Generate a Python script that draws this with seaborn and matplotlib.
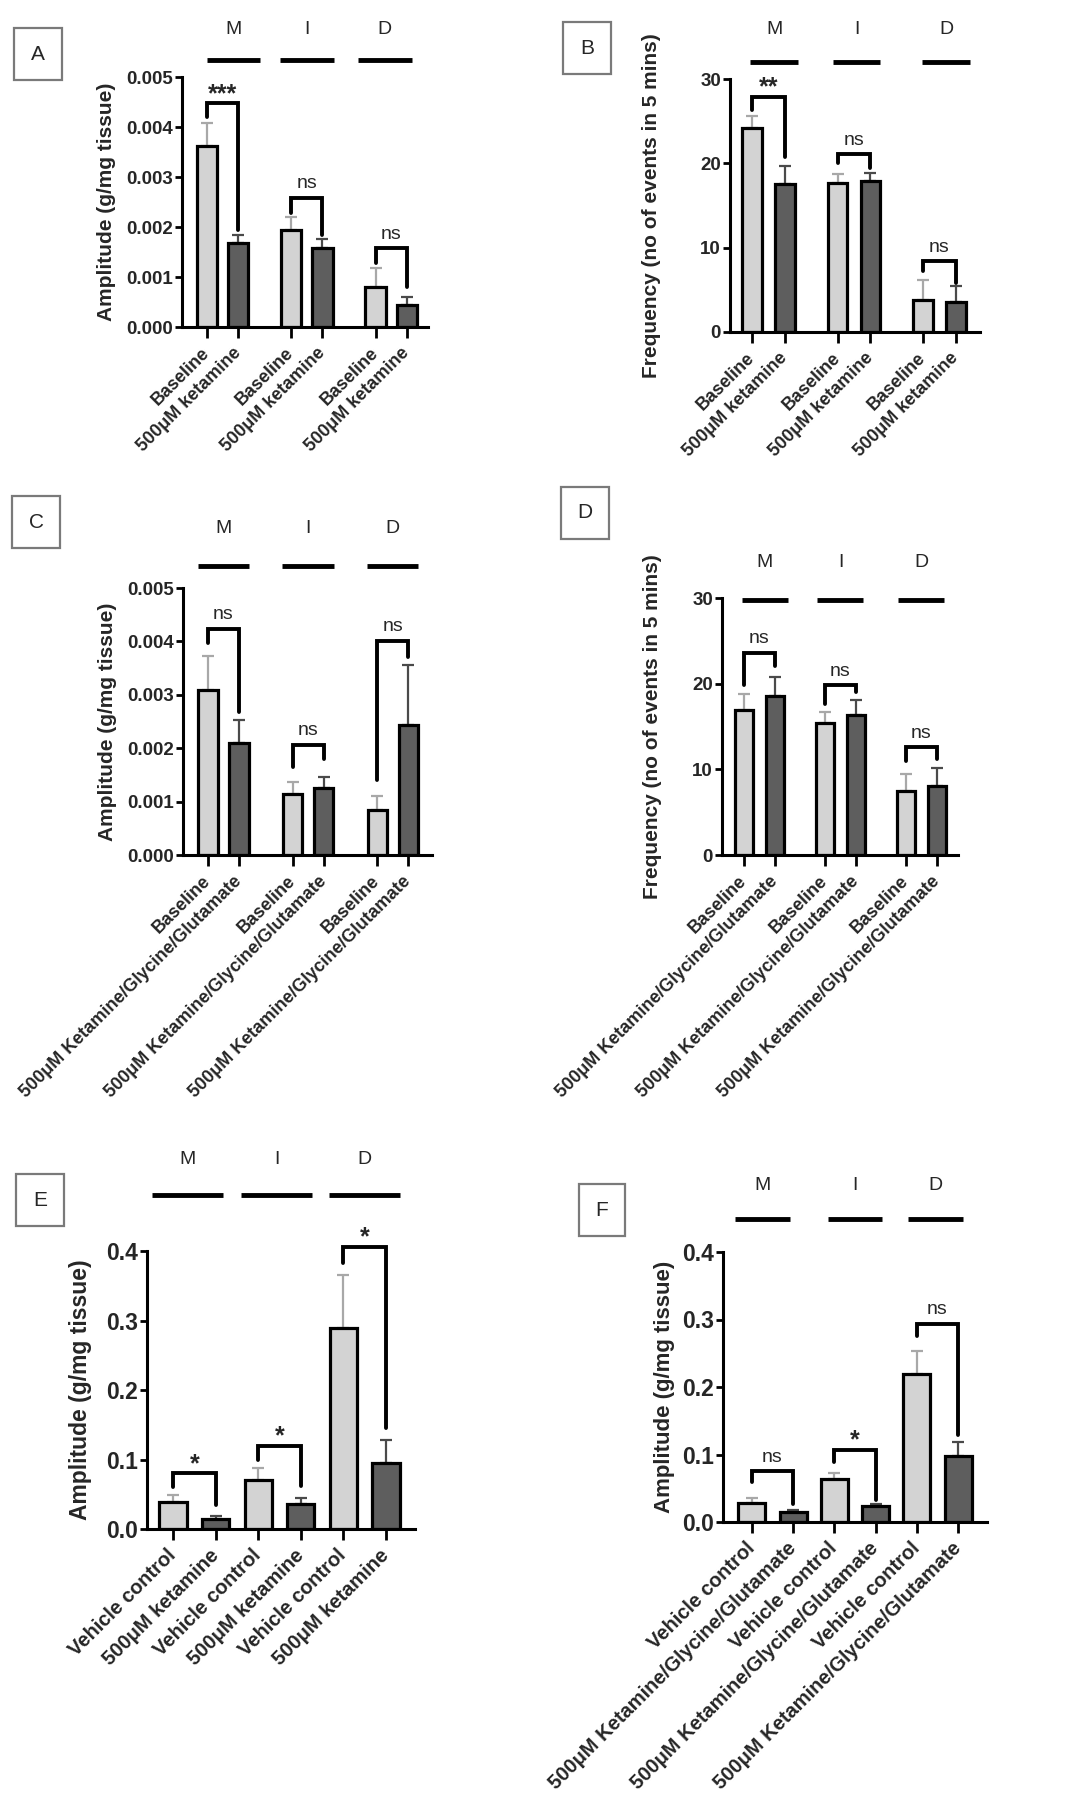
import numpy as np
import pandas as pd
import matplotlib
matplotlib.use("Agg")
import matplotlib.pyplot as plt
import matplotlib.transforms as mtransforms
import seaborn as sns

# tick labels
ket_labels = ["Baseline", "500μM ketamine"] * 3
kgg_labels = ["Baseline", "500μM Ketamine/Glycine/Glutamate"] * 3
veh_ket_labels = ["Vehicle control", "500μM ketamine"] * 3
veh_kgg_labels = ["Vehicle control", "500μM Ketamine/Glycine/Glutamate"] * 3
regions = ["M", "I", "D"]

# A - amplitude, ketamine
a_mean = [0.00361, 0.00167, 0.00193, 0.00157, 0.00079, 0.00043]
a_sem = [0.00046, 0.00016, 0.00027, 0.00018, 0.00038, 0.00017]
a_br_top = [0.00447, 0.00258, 0.00157]
a_br_left = [0.0042, 0.00227, 0.00127]
a_br_right = [0.00193, 0.00183, 0.0008]
a_sig = ["***", "ns", "ns"]

# B - frequency, ketamine
b_mean = [24.2, 17.5, 17.7, 17.9, 3.75, 3.5]
b_sem = [1.4, 2.2, 1.05, 0.9, 2.45, 1.9]
b_br_top = [27.9, 21.1, 8.4]
b_br_left = [26.3, 20.0, 7.2]
b_br_right = [20.8, 19.4, 5.8]
b_sig = ["**", "ns", "ns"]

# C - amplitude, ketamine/glycine/glutamate
c_mean = [0.00309, 0.0021, 0.00115, 0.00126, 0.00085, 0.00244]
c_sem = [0.00063, 0.00043, 0.00022, 0.00021, 0.00026, 0.00111]
c_br_top = [0.00424, 0.00206, 0.00401]
c_br_left = [0.00397, 0.00164, 0.00141]
c_br_right = [0.00267, 0.00179, 0.0037]
c_sig = ["ns", "ns", "ns"]

# D - frequency, ketamine/glycine/glutamate
d_mean = [16.9, 18.6, 15.4, 16.4, 7.5, 8.1]
d_sem = [1.9, 2.2, 1.3, 1.7, 1.9, 2.0]
d_br_top = [23.6, 19.8, 12.6]
d_br_left = [19.8, 17.6, 11.0]
d_br_right = [22.1, 19.0, 11.2]
d_sig = ["ns", "ns", "ns"]

# E - amplitude, vehicle vs ketamine
e_mean = [0.0385, 0.014, 0.07, 0.0365, 0.289, 0.0955]
e_sem = [0.0105, 0.005, 0.018, 0.0075, 0.076, 0.032]
e_br_top = [0.08, 0.12, 0.406]
e_br_left = [0.061, 0.10, 0.383]
e_br_right = [0.035, 0.062, 0.145]
e_sig = ["*", "*", "*"]

# F - amplitude, vehicle vs ketamine/glycine/glutamate
f_mean = [0.028, 0.0146, 0.063, 0.023, 0.22, 0.098]
f_sem = [0.008, 0.0034, 0.01, 0.0035, 0.033, 0.021]
f_br_top = [0.075, 0.107, 0.294]
f_br_left = [0.06, 0.089, 0.275]
f_br_right = [0.026, 0.033, 0.129]
f_sig = ["ns", "*", "ns"]

amp_label = "Amplitude (g/mg tissue)"
freq_label = "Frequency (no of events in 5 mins)"

sns.set_style("ticks")
plt.rcParams["font.family"] = ["Liberation Sans", "DejaVu Sans"]

W, H = 1080, 1819
fig = plt.figure(figsize=(W / 100, H / 100), dpi=100)

LIGHT = "#d3d3d3"
DARK = "#5e5e5e"


def add_ax(left, right, top, bottom):
    return fig.add_axes([left / W, 1 - bottom / H, (right - left) / W, (bottom - top) / H])


#Draw one panel
def draw_panel(ax, labels, mean, sem, gap, width, xlim, yticks, fmt, ylabel,
               br_top, br_left, br_right, sig, line_y, reg_y, ylab_x,
               line_len, line_shift, fs=(13.5, 13, 15)):
    ytick_fs, xtick_fs, ylab_fs = fs
    # two bars per region, extra space "gap" between regions
    pos = []
    for g in range(3):
        pos += [g * (2 + gap), g * (2 + gap) + 1]
    cond = ["base", "treat"] * 3
    df = pd.DataFrame({"pos": pos, "value": mean, "cond": cond})
    sns.barplot(data=df, x="pos", y="value", hue="cond", native_scale=True, dodge=False,
                palette={"base": LIGHT, "treat": DARK}, width=width, edgecolor="black",
                linewidth=2.3, errorbar=None, legend=False, ax=ax, zorder=2)
    for i, p in enumerate(pos):
        ax.errorbar(p, mean[i], yerr=[[0], [sem[i]]], fmt="none",
                    ecolor="#a8a8a8" if i % 2 == 0 else "#4a4a4a",
                    elinewidth=1.6, capsize=4, capthick=1.6, zorder=1)
    ax.set_xlim(*xlim)
    ax.set_ylim(yticks[0], yticks[-1])
    ax.set_yticks(yticks)
    ax.set_yticklabels([fmt.format(t) for t in yticks], fontweight="bold", fontsize=ytick_fs)
    ax.set_xticks(pos)
    ax.set_xticklabels(labels, rotation=45, ha="right", va="center",
                       rotation_mode="anchor", fontweight="bold", fontsize=xtick_fs)
    ax.set_xlabel("")
    ax.set_ylabel(ylabel, fontweight="bold", fontsize=ylab_fs)
    ax.yaxis.set_label_coords(ylab_x, 0.5)
    ax.tick_params(axis="y", width=2, length=5, color="black", pad=1.5)
    ax.tick_params(axis="x", width=2, length=8, color="black", pad=9)
    sns.despine(ax=ax)
    for s in ["left", "bottom"]:
        ax.spines[s].set_linewidth(2.2)
        ax.spines[s].set_color("black")

    # significance brackets
    for g in range(3):
        x1, x2 = pos[2 * g], pos[2 * g + 1]
        ax.plot([x1, x1, x2, x2], [br_left[g], br_top[g], br_top[g], br_right[g]],
                color="black", lw=2.8, clip_on=False, solid_joinstyle="miter", zorder=3)
        if sig[g] == "ns":
            ax.annotate("ns", ((x1 + x2) / 2, br_top[g]), xytext=(0, 4), textcoords="offset points",
                        ha="center", va="bottom", fontsize=14, annotation_clip=False)
        else:
            ax.annotate(sig[g], ((x1 + x2) / 2, br_top[g]), xytext=(0, -2), textcoords="offset points",
                        ha="center", va="bottom", fontsize=18, fontweight="bold",
                        annotation_clip=False)

    # region bars above the plot
    trans = mtransforms.blended_transform_factory(ax.transData, ax.transAxes)
    for g in range(3):
        mid = (pos[2 * g] + pos[2 * g + 1]) / 2 + line_shift[g]
        ax.plot([mid - line_len / 2, mid + line_len / 2], [line_y, line_y], color="black",
                lw=3.5, transform=trans, clip_on=False, solid_capstyle="butt")
        ax.text(mid, reg_y, regions[g], transform=trans, ha="center",
                va="center", fontsize=14)


def panel_tag(x, y, s):
    fig.text(x / W, 1 - y / H, s, ha="center", va="center", fontsize=15,
             bbox=dict(boxstyle="square,pad=0.8", fc="white", ec="#7a7a7a", lw=1.6))


amp_ticks = [0.0, 0.001, 0.002, 0.003, 0.004, 0.005]
freq_ticks = [0, 10, 20, 30]
big_ticks = [0.0, 0.1, 0.2, 0.3, 0.4]

axA = add_ax(182, 428, 77, 327)
draw_panel(axA, ket_labels, a_mean, a_sem, 0.7, 0.65, (-0.8, 7.08), amp_ticks, "{:.3f}",
           amp_label, a_br_top, a_br_left, a_br_right, a_sig, 1.068, 1.188, -0.268,
           1.72, [0.35, 0.0, -0.2])

axB = add_ax(730, 980, 79, 332)
draw_panel(axB, ket_labels, b_mean, b_sem, 0.6, 0.6, (-0.67, 6.93), freq_ticks, "{:d}",
           freq_label, b_br_top, b_br_left, b_br_right, b_sig, 1.067, 1.194, -0.276,
           1.45, [0.17, 0.08, 0.2])

axC = add_ax(183, 432, 588, 855)
draw_panel(axC, kgg_labels, c_mean, c_sem, 0.72, 0.62, (-0.8, 7.2), amp_ticks, "{:.3f}",
           amp_label, c_br_top, c_br_left, c_br_right, c_sig, 1.082, 1.221, -0.265,
           1.65, [0.0, 0.0, 0.0])

axD = add_ax(722, 958, 598, 855)
draw_panel(axD, kgg_labels, d_mean, d_sem, 0.64, 0.6, (-0.72, 6.97), freq_ticks, "{:d}",
           freq_label, d_br_top, d_br_left, d_br_right, d_sig, 0.992, 1.14, -0.254,
           1.5, [0.18, 0.0, 0.0])

axE = add_ax(147, 415, 1251, 1529)
draw_panel(axE, veh_ket_labels, e_mean, e_sem, 0.0, 0.64, (-0.61, 5.68), big_ticks, "{:.1f}",
           amp_label, e_br_top, e_br_left, e_br_right, e_sig, 1.2, 1.33, -0.205,
           1.67, [-0.16, -0.07, 0.0], fs=(16.5, 14.5, 16.5))

axF = add_ax(723, 987, 1252, 1522)
draw_panel(axF, veh_kgg_labels, f_mean, f_sem, 0.0, 0.65, (-0.7, 5.7), big_ticks, "{:.1f}",
           amp_label, f_br_top, f_br_left, f_br_right, f_sig, 1.122, 1.248, -0.182,
           1.33, [-0.25, 0.0, -0.05], fs=(16.5, 14.5, 16))

panel_tag(38, 54, "A")
panel_tag(587, 48, "B")
panel_tag(36, 522, "C")
panel_tag(585, 513, "D")
panel_tag(40, 1200, "E")
panel_tag(602, 1210, "F")

fig.savefig("out.png", dpi=100, facecolor="white")
